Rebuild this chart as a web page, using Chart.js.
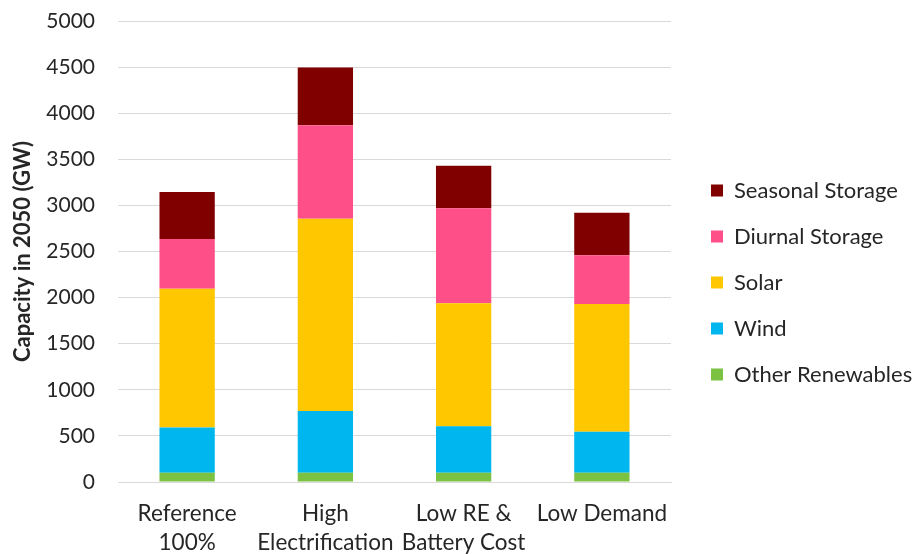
<!DOCTYPE html>
<html>
<head>
<meta charset="utf-8">
<script src="https://cdn.jsdelivr.net/npm/chart.js@4"></script>
<style>
  html, body { margin: 0; padding: 0; background: #fff; }
  #wrap { width: 916px; height: 554px; }
</style>
</head>
<body>
<div id="wrap"><canvas id="grafica" width="916" height="554"></canvas></div>
<script>
const escenarios = [['Reference', '100%'], ['High', 'Electrification'], ['Low RE &', 'Battery Cost'], 'Low Demand'];
const otrasRenovables = [100, 100, 100, 100];
const eolica = [490, 670, 505, 445];
const solar = [1505, 2085, 1335, 1385];
const almacenDiurno = [540, 1015, 1030, 530];
const almacenEstacional = [510, 625, 460, 460];
const ticksY = [0, 500, 1000, 1500, 2000, 2500, 3000, 3500, 4000, 4500, 5000];

const fuente = 'Lato, "Open Sans", sans-serif';
const texto = '#262626';

// legend sits a bit further from the plot than Chart.js puts it
const huecoLeyenda = {
  id: 'huecoLeyenda',
  beforeInit(chart) {
    const fit = chart.legend.fit;
    chart.legend.fit = function () {
      fit.call(this);
      this.width += 16;
    };
  },
  afterLayout(chart) {
    chart.legend.left += 16;
  }
};

new Chart(document.getElementById('grafica'), {
  type: 'bar',
  data: {
    labels: escenarios,
    datasets: [
      { label: 'Other Renewables', data: otrasRenovables, backgroundColor: '#7BC142' },
      { label: 'Wind', data: eolica, backgroundColor: '#00B6EE' },
      { label: 'Solar', data: solar, backgroundColor: '#FFC700' },
      { label: 'Diurnal Storage', data: almacenDiurno, backgroundColor: '#FF4F88' },
      { label: 'Seasonal Storage', data: almacenEstacional, backgroundColor: '#800000' }
    ]
  },
  options: {
    responsive: false,
    animation: false,
    layout: { padding: { top: 11, left: 0, right: 0, bottom: 0 } },
    datasets: { bar: { categoryPercentage: 1, barPercentage: 0.4 } },
    plugins: {
      tooltip: { enabled: false },
      legend: {
        position: 'right',
        reverse: true,
        labels: {
          boxWidth: 12,
          boxHeight: 12,
          padding: 24,
          color: texto,
          font: { family: fuente, size: 22 }
        }
      }
    },
    scales: {
      x: {
        stacked: true,
        grid: { display: false, drawTicks: false },
        border: { display: true, color: '#D9D9D9' },
        ticks: {
          color: texto,
          padding: 17.5,
          autoSkip: false,
          maxRotation: 0,
          font: { family: fuente, size: 22.5, lineHeight: 1.29 }
        },
        afterFit: s => { s.height = 72; }
      },
      y: {
        stacked: true,
        min: 0,
        max: 5000,
        afterBuildTicks: scale => { scale.ticks = ticksY.map(v => ({ value: v })); },
        afterFit: s => { s.width = 118; s.paddingTop = 21; },
        grid: { color: '#D9D9D9', drawTicks: false },
        border: { display: false },
        ticks: { color: texto, padding: 23, font: { family: fuente, size: 21 }, callback: v => String(v) },
        title: {
          display: true,
          text: 'Capacity in 2050 (GW)',
          color: texto,
          padding: { top: 10, bottom: 10 },
          font: { family: fuente, size: 22, weight: 'bold' }
        }
      }
    }
  },
  plugins: [huecoLeyenda]
});
</script>
</body>
</html>
